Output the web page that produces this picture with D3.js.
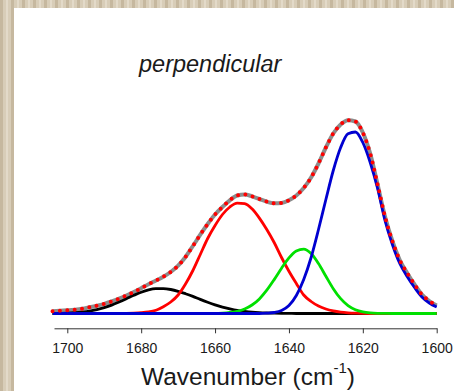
<!DOCTYPE html>
<html>
<head>
<meta charset="utf-8">
<script src="https://cdn.jsdelivr.net/npm/d3@7"></script>
<style>
  html, body { margin: 0; padding: 0; background: #fff; }
  svg { display: block; }
  text { font-family: "Liberation Sans", Arial, sans-serif; fill: #1a1a1a; }
</style>
</head>
<body>
<svg width="454" height="391"></svg>
<script>
// wavenumbers, cm-1 (read every 2 cm-1)
const wavenumbers = [1704,1702,1700,1698,1696,1694,1692,1690,1688,1686,1684,1682,1680,1678,1676,1674,1672,1670,1668,1666,1664,1662,1660,1658,1656,1654,1652,1650,1648,1646,1644,1642,1640,1638,1636,1634,1632,1630,1628,1626,1624,1622,1620,1618,1616,1614,1612,1610,1608,1606,1604,1602,1600];

// measured spectrum / total fit (arbitrary units)
const envelope = [2.3,2.7,3.2,3.8,4.7,6.2,7.8,9.6,12.0,14.8,18.0,21.5,25.3,29.3,33.0,36.8,41.5,47.8,56.5,67.5,78.8,89.5,99.0,106.5,113.2,118.0,119.0,117.2,114.5,111.8,110.2,110.5,113.2,118.0,125.5,136,150,166,180,189,193.3,192,181,160,129,97,72.5,53.5,40.5,29,19,12.5,8];

// fitted components
const band1675 = [0.1,0.2,0.4,0.8,1.45,2.4,3.9,5.9,8.4,11.5,14.8,18.2,21.3,23.6,24.8,24.9,24.0,22.2,19.8,17.1,14.1,11.3,8.7,6.4,4.6,3.1,2.1,1.3,0.8,0.5,0.3,0.15,0.1,0,0,0,0,0,0,0,0,0,0,0,0,0,0,0,0,0,0,0,0];
const band1653 = [0,0,0,0,0,0,0,0,0,0.1,0.2,0.4,0.8,1.6,3.3,6.8,11.5,18.5,29.5,43,59,75,88,99,106.5,110.4,109.9,104.7,95.4,84,71,56,42.2,30,18.5,12,7.5,4.5,2.6,1.4,0.7,0.3,0.1,0,0,0,0,0,0,0,0,0,0];
const band1636 = [0,0,0,0,0,0,0,0,0,0,0,0,0,0,0,0,0,0,0,0,0,0,0,0.3,1.0,2.2,4.5,8.5,14.6,23.3,33.9,45.3,55.6,62.5,64.4,59.9,49.9,37.2,24.8,14.8,7.9,3.8,1.6,0.6,0.2,0.1,0,0,0,0,0,0,0];
const band1623 = [0,0,0,0,0,0,0,0,0,0,0,0,0,0,0,0,0,0,0,0,0,0,0,0,0,0,0,0,0,0.3,1,3,8,18,34,56,84,114,143,166,179.7,181.5,171,151,125,93,69,50,37,26,16.5,10.5,6.5];

const xTicks = [1700, 1680, 1660, 1640, 1620, 1600];

const svg = d3.select("svg");

// textured frame
const defs = svg.append("defs");
const pat = defs.append("pattern")
    .attr("id", "canvas")
    .attr("patternUnits", "userSpaceOnUse")
    .attr("width", 11).attr("height", 391);
pat.append("rect").attr("width", 11).attr("height", 391).attr("fill", "#d8cdb8");
pat.append("rect").attr("x", 0).attr("width", 3).attr("height", 391).attr("fill", "#c6b89f");
pat.append("rect").attr("x", 6).attr("width", 2).attr("height", 391).attr("fill", "#e3dac9");

svg.append("rect").attr("width", 454).attr("height", 391).attr("fill", "url(#canvas)");
svg.append("rect").attr("x", 14).attr("y", 8).attr("width", 440).attr("height", 383).attr("fill", "#fff");

const x = d3.scaleLinear().domain([1703.6, 1600]).range([54, 436.7]);
const y = d3.scaleLinear().domain([-14.8, 200]).range([328.3, 113.5]);

const line = vals => d3.line()
    .x((d, i) => x(wavenumbers[i]))
    .y(d => y(d))
    .curve(d3.curveMonotoneX)(vals);

const g = svg.append("g");

g.append("path")
    .attr("d", line(envelope))
    .attr("fill", "none")
    .attr("stroke", "#8c8c8c")
    .attr("stroke-width", 4);

[[band1675, "#000000"], [band1653, "#ff0000"], [band1636, "#00e000"], [band1623, "#0000d0"]]
  .forEach(([vals, col]) => {
    g.append("path")
        .attr("d", line(vals))
        .attr("fill", "none")
        .attr("stroke", col)
        .attr("stroke-width", 2.8);
  });

g.append("path")
    .attr("d", line(envelope))
    .attr("fill", "none")
    .attr("stroke", "#ff0000")
    .attr("stroke-width", 4)
    .attr("stroke-linecap", "round")
    .attr("stroke-dasharray", "0 7.4");

// x axis
const xAxis = d3.axisBottom(x).tickValues(xTicks).tickFormat(d3.format("d"))
    .tickSize(5).tickPadding(10).tickSizeOuter(0);
const ax = svg.append("g")
    .attr("transform", "translate(0,328.3)")
    .call(xAxis);
ax.select(".domain").attr("stroke", "#333");
ax.selectAll(".tick line").attr("stroke", "#333");
ax.selectAll(".tick text")
    .style("font-family", "'Liberation Sans', Arial, sans-serif")
    .style("font-size", "14px")
    .attr("fill", "#222");

const xt = svg.append("text")
    .attr("x", 141).attr("y", 385)
    .style("font-size", "24.5px");
xt.append("tspan").text("Wavenumber (cm");
xt.append("tspan").attr("dy", -12).style("font-size", "15px").text("-1");
xt.append("tspan").attr("dy", 12).text(")");

svg.append("text")
    .attr("x", 139).attr("y", 71.5)
    .style("font-size", "23.5px")
    .style("font-style", "italic")
    .text("perpendicular");
</script>
</body>
</html>
